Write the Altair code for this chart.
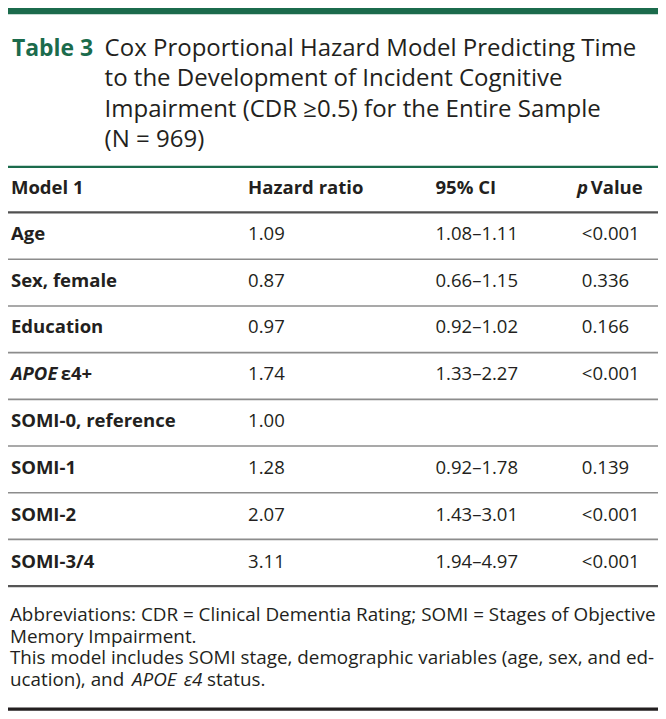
import altair as alt
import pandas as pd

# ---------------- data ----------------
title_label = "Table 3"
title_lines = [
    "Cox Proportional Hazard Model Predicting Time",
    "to the Development of Incident Cognitive",
    "Impairment (CDR ≥0.5) for the Entire Sample",
    "(N = 969)",
]
headers = ["Model 1", "Hazard ratio", "95% CI", "Value"]  # 4th header prefixed by italic "p"
variables = ["Age", "Sex, female", "Education", "APOE", "SOMI-0, reference", "SOMI-1", "SOMI-2", "SOMI-3/4"]
variable_suffix = ["", "", "", "ε4+", "", "", "", ""]
variable_italic = [False, False, False, True, False, False, False, False]
hazard_ratio = [1.09, 0.87, 0.97, 1.74, 1.00, 1.28, 2.07, 3.11]
ci_low = [1.08, 0.66, 0.92, 1.33, None, 0.92, 1.43, 1.94]
ci_high = [1.11, 1.15, 1.02, 2.27, None, 1.78, 3.01, 4.97]
p_value = ["<0.001", "0.336", "0.166", "<0.001", "", "0.139", "<0.001", "<0.001"]
footnotes = [
    "Abbreviations: CDR = Clinical Dementia Rating; SOMI = Stages of Objective",
    "Memory Impairment.",
    "This model includes SOMI stage, demographic variables (age, sex, and ed-",
    "ucation), and",
]
foot_italic = ["APOE", "ε4"]
foot_tail = "status."

# ---------------- layout (reference units) ----------------
W, H = 650, 703
REF_W, REF_H = 666, 719
S = W / REF_W
INK = "#231f20"
GREEN = "#1b6b4c"
FONT = "Open Sans"

col_x = [3, 246, 438, 588]
header_y = 190
row_y0, row_h = 237, 47.9
rule_y0, rule_h = 257, 47.75
title_y0, title_h = 49, 31
foot_y0, foot_h = 627, 22
BODY = 19
FOOT = 19.3

X = alt.X("x:Q", scale=alt.Scale(domain=[0, REF_W]), axis=None)
Y = alt.Y("y:Q", scale=alt.Scale(domain=[0, REF_H], reverse=True), axis=None)


def text_layer(rows, size, weight="normal", style="normal", color=INK):
    df = pd.DataFrame(rows, columns=["x", "y", "t"])
    return alt.Chart(df).mark_text(
        align="left", baseline="alphabetic", font=FONT, fontSize=size * S,
        fontWeight=weight, fontStyle=style, color=color,
    ).encode(x=X, y=Y, text="t:N")


def rule_layer(ys, width, color, x0=0, x1=REF_W):
    df = pd.DataFrame({"x": [x0] * len(ys), "x2": [x1] * len(ys), "y": ys})
    return alt.Chart(df).mark_rule(strokeWidth=width, color=color).encode(
        x=X, x2=alt.X2("x2"), y=Y
    )


layers = []

# top green bar & title rule
layers.append(rule_layer([3], 6.5, GREEN))
layers.append(rule_layer([162.5], 2.2, GREEN))

# title
layers.append(text_layer([(4, title_y0, title_label)], 23.5, weight="bold", color=GREEN))
layers.append(text_layer([(99, title_y0 + i * title_h, t) for i, t in enumerate(title_lines)], 24.6))

# header
layers.append(text_layer([(col_x[0], header_y, headers[0]),
                          (col_x[1], header_y, headers[1]),
                          (col_x[2], header_y, headers[2]),
                          (col_x[3] + 9, header_y, headers[3])], BODY, weight="bold"))
layers.append(text_layer([(col_x[3] - 5, header_y, "p")], BODY, weight="bold", style="italic"))

# body rows
row_ys = [row_y0 + i * row_h for i in range(len(variables))]
plain_lbl = [(col_x[0], y, v) for v, y, it in zip(variables, row_ys, variable_italic) if not it]
ital_lbl = [(col_x[0], y, v) for v, y, it in zip(variables, row_ys, variable_italic) if it]
suffix_lbl = [(col_x[0] + 51, y, s) for s, y in zip(variable_suffix, row_ys) if s]
layers.append(text_layer(plain_lbl, BODY, weight="bold"))
layers.append(text_layer(ital_lbl, BODY, weight="bold", style="italic"))
layers.append(text_layer(suffix_lbl, BODY, weight="bold"))

vals = []
for y, hr, lo, hi, p in zip(row_ys, hazard_ratio, ci_low, ci_high, p_value):
    vals.append((col_x[1], y, f"{hr:.2f}"))
    if lo is not None:
        vals.append((col_x[2], y, f"{lo:.2f}–{hi:.2f}"))
    if p:
        vals.append((col_x[3], y, p))
layers.append(text_layer(vals, BODY))

# rules
layers.append(rule_layer([209], 2.2, "#505050"))
body_rules = [rule_y0 + k * rule_h for k in range(len(variables) - 1)]
layers.append(rule_layer(body_rules, 1.6, "#8c8c8c"))
layers.append(rule_layer([rule_y0 + (len(variables) - 1) * rule_h], 2.2, "#555555"))

# footnotes
foot_ys = [foot_y0 + i * foot_h for i in range(len(footnotes))]
layers.append(text_layer([(2, y, t) for y, t in zip(foot_ys, footnotes)], FOOT))
layers.append(text_layer([(127, foot_ys[-1], foot_italic[0]),
                          (180, foot_ys[-1], foot_italic[1])], FOOT, style="italic"))
layers.append(text_layer([(204, foot_ys[-1], foot_tail)], FOOT))
layers.append(rule_layer([717], 3.2, INK))

chart = alt.layer(*layers).properties(
    width=W, height=H, padding=0, autosize="none", background="white"
).configure_view(stroke=None)

chart.save("out.html", embed_options={"renderer": "svg", "actions": False})
